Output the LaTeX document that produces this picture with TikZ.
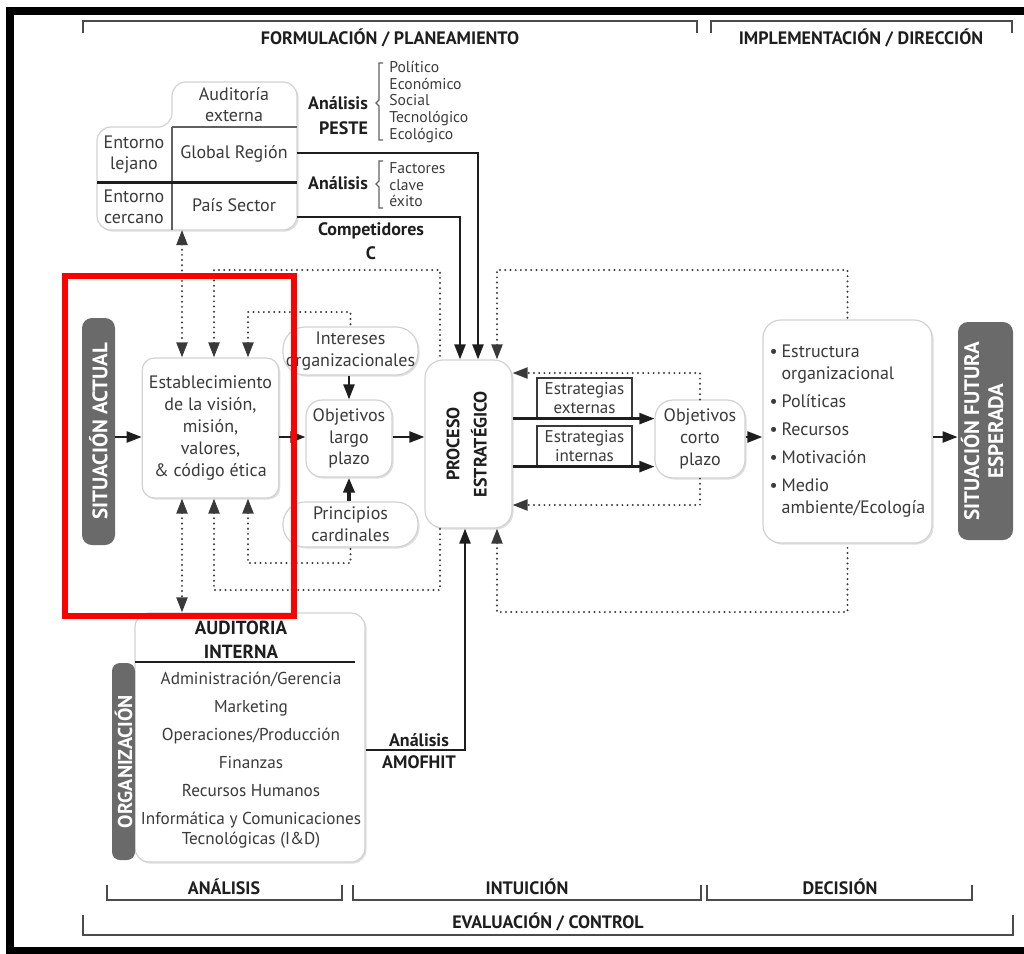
\documentclass[tikz,border=0pt]{standalone}
\usepackage{fontspec}
\setmainfont{PT Sans}
\usepackage{graphicx}
\usetikzlibrary{arrows.meta,shadows}
\definecolor{txt}{HTML}{3A3A3A}
\definecolor{ink}{HTML}{1E1E1E}
\definecolor{bargray}{HTML}{6A6A6A}
\tikzset{
  box/.style={draw=gray!35, line width=.6pt, fill=white, rounded corners=6pt, align=center, text=txt,
    font=\fontsize{9}{10.9}\selectfont, drop shadow={shadow xshift=.8pt, shadow yshift=-.8pt, opacity=.25}},
  bar/.style={fill=bargray, rounded corners=5pt, text=white, inner sep=0pt, align=center,
    font=\bfseries\fontsize{10.5}{12}\selectfont},
  link/.style={->, line width=1.2pt, draw=ink},
  dots/.style={draw=txt, line width=1.1pt, line cap=round, dash pattern=on 0pt off 2.6pt},
  lbl/.style={text=ink, align=center, font=\bfseries\fontsize{9}{12}\selectfont},
  small/.style={text=txt, align=left, anchor=west, inner sep=0pt, font=\fontsize{7.8}{8.3}\selectfont},
  brk/.style={draw=ink!80, line width=1pt},
  tag/.style={draw=txt, line width=.6pt, inner sep=1pt, minimum width=47.5pt, minimum height=20pt,
    text=txt, align=center, font=\fontsize{8.5}{9.5}\selectfont},
}
\begin{document}
\begin{tikzpicture}[x=0.5pt, y=-0.5pt, >={Triangle[length=7.5pt,width=5.5pt]}]
\useasboundingbox (0,0) rectangle (1024,954);
\draw[line width=4pt] (10,11) rectangle (1040,951);

% phases on top
\draw[brk] (83,33) -- (83,21) -- (697,21) -- (697,33);
\node[lbl] (formul) at (390,38) {FORMULACIÓN / PLANEAMIENTO};
\draw[brk] (711,33) -- (711,21) -- (1012,21) -- (1012,33);
\node[lbl] (implem) at (861,38) {IMPLEMENTACIÓN / DIRECCIÓN};

% external audit
\draw[fill=white, draw=gray!35, line width=.6pt, rounded corners=7pt,
  drop shadow={shadow xshift=.8pt, shadow yshift=-.8pt, opacity=.25}]
  (172,82) -- (297,82) -- (297,230) -- (97,230) -- (97,127) -- (172,127) -- cycle;
\draw[ink!70, line width=.8pt] (172,127) -- (297,127);
\draw[ink!70, line width=.8pt] (172,127) -- (172,230);
\draw[ink, line width=1.5pt] (97,182) -- (297,182);
\node[text=txt, align=center, font=\fontsize{9}{10.6}\selectfont] (audE) at (234,105) {Auditoría\\externa};
\node[text=txt, font=\fontsize{9}{10.6}\selectfont] (glob) at (234,154) {Global Región};
\node[text=txt, font=\fontsize{9}{10.6}\selectfont] (pais) at (234,205) {País Sector};
\node[text=txt, align=center, font=\fontsize{9}{10.6}\selectfont] (lejano) at (134,155) {Entorno\\lejano};
\node[text=txt, align=center, font=\fontsize{9}{10.6}\selectfont] (cercano) at (134,207) {Entorno\\cercano};
\coordinate (globE) at (297,153);
\coordinate (paisE) at (297,217);
\coordinate (envS) at (182,230);

\node[lbl, align=right, anchor=east, font=\bfseries\fontsize{9}{12.5}\selectfont] (pesteA) at (375,116) {Análisis\\PESTE};
\draw[ink!70, line width=.7pt] (383,63) -- (379,63) -- (379,100) -- (376,103) -- (379,106) -- (379,140) -- (383,140);
\node[small] (pesteL) at (389,102) {Político\\Económico\\Social\\Tecnológico\\Ecológico};
\node[lbl, anchor=east] (fcA) at (375,183) {Análisis};
\draw[ink!70, line width=.7pt] (383,161) -- (379,161) -- (379,181) -- (376,184) -- (379,187) -- (379,208) -- (383,208);
\node[small] (fcL) at (389,185) {Factores\\clave\\éxito};
\node[lbl] (comp) at (371,241) {Competidores\\C};

% main flow
\node[bar, minimum width=16.5pt, minimum height=113.5pt] (sitA) at (98.5,431.5) {\rotatebox{90}{SITUACIÓN ACTUAL}};
\node[box, minimum width=67.5pt, minimum height=70pt] (est) at (210.5,428) {Establecimiento\\de la visión,\\misión,\\valores,\\\& código ética};
\node[box, rounded corners=11pt, minimum width=67.5pt, minimum height=24pt, inner sep=1pt] (inte) at (350.5,351) {Intereses\\organizacionales};
\node[box, rounded corners=8pt, minimum width=43pt, minimum height=38.5pt, inner sep=1pt] (objL) at (349,438.5) {Objetivos\\largo\\plazo};
\node[box, rounded corners=11pt, minimum width=67.5pt, minimum height=22.5pt, inner sep=1pt] (prin) at (350.5,524.5) {Principios\\cardinales};
\node[box, rounded corners=9pt, minimum width=43.5pt, minimum height=84pt, text=ink] (proc) at (468.5,444)
  {\rotatebox{90}{\bfseries\fontsize{9}{11}\selectfont\begin{tabular}{@{}c@{}}PROCESO\\[2.5pt]ESTRATÉGICO\end{tabular}}};
\node[tag] (estE) at (584.5,398) {Estrategias\\externas};
\node[tag] (estI) at (584.5,446) {Estrategias\\internas};
\node[box, rounded corners=9pt, minimum width=45pt, minimum height=39pt, inner sep=1pt] (objC) at (700,439) {Objetivos\\corto\\plazo};
\node[box, rounded corners=9pt, minimum width=82.5pt, minimum height=111.5pt, align=left, font=\fontsize{9}{11}\selectfont] (bul) at (847.5,431.5)
  {\makebox[6pt][l]{\textbullet}Estructura\\\makebox[6pt]{}organizacional\\[3pt]
   \makebox[6pt][l]{\textbullet}Políticas\\[3pt]
   \makebox[6pt][l]{\textbullet}Recursos\\[3pt]
   \makebox[6pt][l]{\textbullet}Motivación\\[3pt]
   \makebox[6pt][l]{\textbullet}Medio\\\makebox[6pt]{}ambiente/Ecología};
\node[bar, minimum width=27.5pt, minimum height=109pt] (sitF) at (985.5,431)
  {\rotatebox{90}{\begin{tabular}{@{}c@{}}SITUACIÓN FUTURA\\ESPERADA\end{tabular}}};

\coordinate (flow) at (0,437);
\draw[link] (sitA.east |- flow) -- (est.west |- flow);
\draw[link] (est.east |- flow) -- (objL.west |- flow);
\draw[link] (objL.east |- flow) -- (proc.west |- flow);
\draw[link] (objL.north |- inte.south) -- (objL.north);
\draw[link, line width=2pt] (objL.south |- prin.north) -- (objL.south);
\draw[link] (proc.east |- estE.south) -- (objC.west |- estE.south);
\draw[link] (proc.east |- estI.south) -- (objC.west |- estI.south);
\draw[link] (objC.east |- flow) -- (bul.west |- flow);
\draw[link] (bul.east |- flow) -- (sitF.west |- flow);

% inputs to the process
\coordinate (colA) at (460,0);
\coordinate (colB) at (478,0);
\coordinate (colC) at (497,0);
\coordinate (colD) at (465,0);
\draw[link] (paisE) -| (colA |- proc.north);
\draw[link] (globE) -| (colB |- proc.north);

% feedback
\coordinate (fbT) at (0,373);
\coordinate (fbB) at (0,505);
\draw[dots, ->] (objC.north) |- (proc.east |- fbT);
\draw[dots, ->] (objC.south) |- (proc.east |- fbB);

\coordinate (colE) at (182,0);
\coordinate (colF) at (214,0);
\coordinate (colG) at (248,0);
\coordinate (colH) at (440,0);
\coordinate (rowT) at (0,270);
\coordinate (rowM) at (0,312);
\coordinate (rowN) at (0,563);
\coordinate (rowB) at (0,590);
\coordinate (rowR) at (0,612);
\coordinate (procTL) at (440,358);
\coordinate (procBL) at (440,528);
\draw[dots, <->] (colE |- envS) -- (colE |- est.north);
\draw[dots, <-] (colF |- est.north) |- (colH |- rowT) -- (procTL);
\draw[dots, <-] (colG |- est.north) |- (inte.north |- rowM) -- (inte.north);
\draw[dots, <-] (colF |- est.south) |- (colH |- rowB) -- (procBL);
\draw[dots, <-] (colG |- est.south) |- (prin.south |- rowN) -- (prin.south);
\draw[dots, <-] (colC |- proc.north) |- (bul.north |- rowT) -- (bul.north);
\draw[dots, <-] (colC |- proc.south) |- (bul.south |- rowR) -- (bul.south);

% internal audit
\node[box, rounded corners=7pt, minimum width=115pt, minimum height=124.5pt] (audI) at (250,737.5) {};
\node[lbl, font=\bfseries\fontsize{9.5}{12}\selectfont] (audT) at (241,640) {AUDITORIA\\INTERNA};
\draw[ink, line width=1pt] (135,662) -- (355,662);
\node[bar, rounded corners=4pt, minimum width=11.5pt, minimum height=98.5pt, font=\bfseries\fontsize{10}{11}\selectfont] (org) at (123.5,761.5) {\rotatebox{90}{ORGANIZACIÓN}};
\node[text=txt, align=center, inner sep=0pt, font=\fontsize{8.6}{14}\selectfont] (audL) at (251,760)
  {Administración/Gerencia\\Marketing\\Operaciones/Producción\\Finanzas\\Recursos Humanos\\Informática y Comunicaciones\\[-4pt]Tecnológicas (I\&D)};
\draw[dots, <->] (colE |- est.south) -- (colE |- audI.north);
\coordinate (amo) at (0,750);
\draw[link] (audI.east |- amo) -| (colD |- proc.south);
\node[lbl, font=\bfseries\fontsize{9}{11}\selectfont] (amoT) at (419,751) {Análisis\\AMOFHIT};

% phases at the bottom
\draw[brk] (107,885) -- (107,900) -- (342,900) -- (342,885);
\node[lbl] (anal) at (224,887) {ANÁLISIS};
\draw[brk] (353,885) -- (353,900) -- (701,900) -- (701,885);
\node[lbl] (intu) at (527,887) {INTUICIÓN};
\draw[brk] (707,885) -- (707,900) -- (972,900) -- (972,885);
\node[lbl] (deci) at (840,887) {DECISIÓN};
\draw[brk] (83,915) -- (83,935) -- (1013,935) -- (1013,915);
\node[lbl] (eval) at (548,922) {EVALUACIÓN / CONTROL};

\draw[red, line width=3pt] (65,275.5) rectangle (294,616);
\end{tikzpicture}
\end{document}
